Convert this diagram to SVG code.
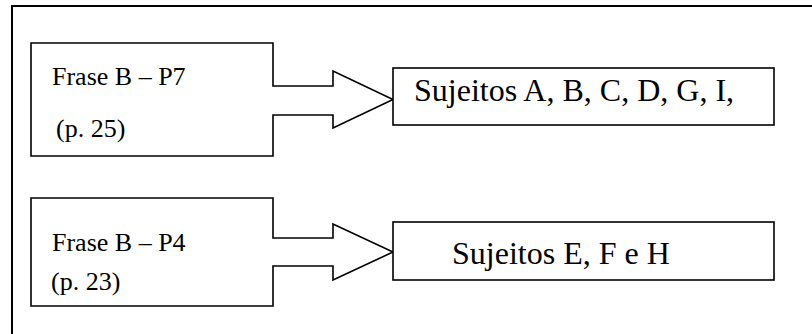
<svg xmlns="http://www.w3.org/2000/svg" width="812" height="334" viewBox="0 0 812 334">
<style>
.shape{fill:#fff;stroke:#000;stroke-width:1.6}
.frame{fill:none;stroke:#000;stroke-width:2}
.small{font-family:"Liberation Serif","Times New Roman",serif;font-size:26px;fill:#000}
.big{font-family:"Liberation Serif","Times New Roman",serif;font-size:32px;fill:#000}
</style>
<rect width="812" height="334" fill="#fff"/>
<g id="frame">
<path class="frame" d="M12,340 V6 H820"/>
</g>
<g id="connectors">
</g>
<g id="node-frase-p7">
<path class="shape" d="M31,43 H273 V86 H333 V71 L393,99.5 L333,128 V115 H273 V156 H31 Z"/>
<text class="small" x="52" y="85">Frase B – P7</text>
<text class="small" x="56" y="137">(p. 25)</text>
</g>
<g id="node-sujeitos-1">
<rect class="shape" x="393" y="68" width="381" height="57"/>
<text class="big" x="414" y="100.5">Sujeitos A, B, C, D, G, I,</text>
</g>
<g id="node-frase-p4">
<path class="shape" d="M31,198 H273 V238 H333 V224 L393,252 L333,280 V266 H273 V306 H31 Z"/>
<text class="small" x="52" y="251">Frase B – P4</text>
<text class="small" x="51" y="290">(p. 23)</text>
</g>
<g id="node-sujeitos-2">
<rect class="shape" x="393" y="222" width="381" height="58"/>
<text class="big" x="452" y="264">Sujeitos E, F e H</text>
</g>
</svg>
